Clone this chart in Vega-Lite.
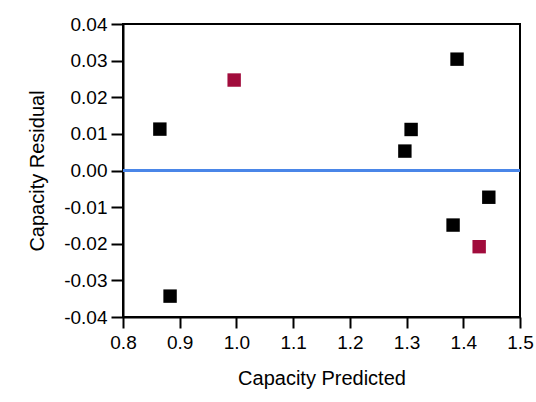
{
  "$schema": "https://vega.github.io/schema/vega-lite/v6.json",
  "width": 397,
  "height": 293,
  "autosize": {"type": "none"},
  "padding": {"left": 123, "top": 24, "right": 16, "bottom": 85},
  "background": "white",
  "config": {
    "font": "Liberation Sans",
    "view": {"stroke": "black", "strokeWidth": 2},
    "axis": {"grid": false, "domainColor": "black", "domainWidth": 2, "tickColor": "black", "tickWidth": 2, "labelColor": "black", "titleColor": "black", "labelFont": "Liberation Sans", "titleFont": "Liberation Sans", "titleFontWeight": "normal"}
  },
  "data": {
    "values": [
      {"pred": 0.865, "resid": 0.0113, "grp": "a"},
      {"pred": 0.996, "resid": 0.0247, "grp": "b"},
      {"pred": 0.883, "resid": -0.0343, "grp": "a"},
      {"pred": 1.389, "resid": 0.0304, "grp": "a"},
      {"pred": 1.308, "resid": 0.0112, "grp": "a"},
      {"pred": 1.297, "resid": 0.0053, "grp": "a"},
      {"pred": 1.445, "resid": -0.0073, "grp": "a"},
      {"pred": 1.382, "resid": -0.0149, "grp": "a"},
      {"pred": 1.428, "resid": -0.0208, "grp": "b"}
    ]
  },
  "layer": [
    {
      "mark": {"type": "point", "shape": "square", "filled": true, "opacity": 1, "size": 180},
      "encoding": {
        "x": {
          "field": "pred", "type": "quantitative",
          "scale": {"domain": [0.8, 1.5], "nice": false, "zero": false},
          "axis": {"title": "Capacity Predicted", "values": [0.8, 0.9, 1.0, 1.1, 1.2, 1.3, 1.4, 1.5], "format": ".1f", "labelFontSize": 19, "titleFontSize": 20, "tickSize": 11, "labelPadding": 5, "titlePadding": 16, "labelFlush": false, "labelOverlap": false}
        },
        "y": {
          "field": "resid", "type": "quantitative",
          "scale": {"domain": [-0.04, 0.04], "nice": false, "zero": false},
          "axis": {"title": "Capacity Residual", "tickCount": 8, "tickMinStep": 0.01, "labelExpr": "replace(format(datum.value, '.2f'), '\u2212', '-')", "labelFontSize": 19, "titleFontSize": 20, "tickSize": 12, "labelPadding": 4, "titlePadding": 16, "labelFlush": false, "labelOverlap": false}
        },
        "color": {
          "field": "grp", "type": "nominal",
          "scale": {"domain": ["a", "b"], "range": ["#000000", "#a10c3c"]},
          "legend": null
        }
      }
    },
    {
      "mark": {"type": "rule", "color": "#4a86e8", "strokeWidth": 2},
      "encoding": {"y": {"datum": 0}}
    }
  ]
}
